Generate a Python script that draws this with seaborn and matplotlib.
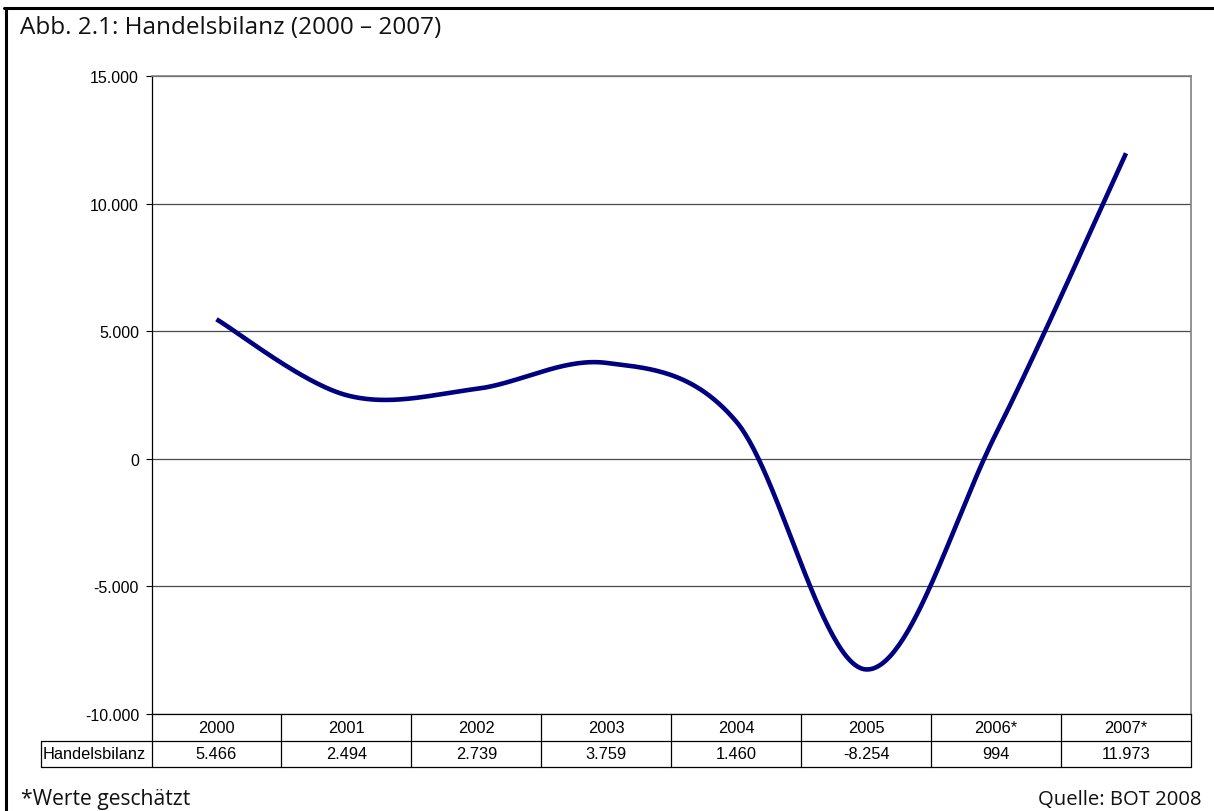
import numpy as np
import pandas as pd
import matplotlib
matplotlib.use('Agg')
import matplotlib.pyplot as plt
import seaborn as sns
from matplotlib.lines import Line2D

# ---- data ----
years = ['2000', '2001', '2002', '2003', '2004', '2005', '2006*', '2007*']
values = [5466, 2494, 2739, 3759, 1460, -8254, 994, 11973]
value_labels = ['5.466', '2.494', '2.739', '3.759', '1.460', '-8.254', '994', '11.973']
y_ticks = [-10000, -5000, 0, 5000, 10000, 15000]
y_tick_labels = ['-10.000', '-5.000', '0', '5.000', '10.000', '15.000']
series_name = 'Handelsbilanz'
title = 'Abb. 2.1: Handelsbilanz (2000 – 2007)'
note = '*Werte geschätzt'
source = 'Quelle: BOT 2008'

sns.set_theme(style='white')
plt.rcParams['font.family'] = ['Liberation Sans', 'DejaVu Sans']

W, H = 1214, 812
fig = plt.figure(figsize=(W / 100, H / 100), dpi=100)
fig.patch.set_facecolor('white')
L, R, T, B = 151.5, 1191, 77, 715
ax = fig.add_axes([L / W, 1 - B / H, (R - L) / W, (B - T) / H])


def excel_smooth(xs, ys, n=60):
    """Bezier smoothing like Excel's 'smoothed line' option."""
    P = np.column_stack([xs, ys]).astype(float)
    out = []
    for i in range(len(P) - 1):
        p0 = P[i - 1] if i > 0 else P[i]
        p1 = P[i]
        p2 = P[i + 1]
        p3 = P[i + 2] if i + 2 < len(P) else P[i + 1]
        c1 = p1 + (p2 - p0) / 6
        c2 = p2 - (p3 - p1) / 6
        t = np.linspace(0, 1, n)[:, None]
        seg = (1 - t) ** 3 * p1 + 3 * (1 - t) ** 2 * t * c1 + 3 * (1 - t) * t ** 2 * c2 + t ** 3 * p2
        if i > 0:
            seg = seg[1:]
        out.append(seg)
    return np.vstack(out)


x_idx = np.arange(len(years))
curve = pd.DataFrame(excel_smooth(x_idx, values), columns=['x', 'y'])
sns.lineplot(data=curve, x='x', y='y', sort=False, estimator=None,
             color='#000080', linewidth=3.3, ax=ax, solid_capstyle='butt')

ax.set_xlim(-0.5, len(years) - 0.5)
ax.set_ylim(y_ticks[0], y_ticks[-1])
ax.set_yticks(y_ticks)
ax.set_yticklabels(y_tick_labels)
ax.set_xticks([])
ax.set_xlabel('')
ax.set_ylabel('')
ax.yaxis.grid(True, color='#4a4a4a', linewidth=0.9)
ax.set_axisbelow(True)
ax.tick_params(axis='y', left=True, length=4.5, width=0.8, color='black',
               direction='out', labelsize=11.5, pad=4.5, labelcolor='black')
ax.spines['left'].set_color('black')
ax.spines['left'].set_linewidth(0.9)
ax.spines['bottom'].set_color('black')
ax.spines['bottom'].set_linewidth(0.9)
for s in ('top', 'right'):
    ax.spines[s].set_color('#808080')
    ax.spines[s].set_linewidth(1.2)

# ---- data table below the plot ----
tr = ax.get_xaxis_transform()
h = 26.5 / (B - T)
n = len(years)
lab_left = -0.5 - 110.5 / 130
lk = dict(transform=tr, color='black', lw=0.9, clip_on=False)
ax.add_artist(Line2D([lab_left, n - 0.5], [-h, -h], **lk))
ax.add_artist(Line2D([lab_left, n - 0.5], [-2 * h, -2 * h], **lk))
ax.add_artist(Line2D([lab_left, lab_left], [-h, -2 * h], **lk))
for k in range(n + 1):
    xb = k - 0.5
    ax.add_artist(Line2D([xb, xb], [0, -2 * h], **lk))
tsize = 11.8
for i, (yr, vl) in enumerate(zip(years, value_labels)):
    ax.text(i, -0.5 * h, yr, transform=tr, ha='center', va='center', fontsize=tsize, color='black')
    ax.text(i, -1.5 * h, vl, transform=tr, ha='center', va='center', fontsize=tsize, color='black')
ax.text(lab_left + 0.015, -1.5 * h, series_name, transform=tr, ha='left', va='center',
        fontsize=tsize, color='black')

# ---- titles and notes ----
fig.text(20 / W, 1 - 28 / H, title, fontsize=17.5, family=['Open Sans', 'DejaVu Sans'],
         ha='left', va='center', color='#111111')
fig.text(21 / W, 1 - 800 / H, note, fontsize=15.2, family=['Open Sans', 'DejaVu Sans'],
         ha='left', va='center', color='#111111')
fig.text(1202 / W, 1 - 800 / H, source, fontsize=14.6, family=['Open Sans', 'DejaVu Sans'],
         ha='right', va='center', color='#111111')

# figure frame (left and top)
fig.add_artist(Line2D([5.5 / W, 5.5 / W], [0, 1 - 9 / H], transform=fig.transFigure,
                      color='black', lw=2.2))
fig.add_artist(Line2D([4.4 / W, 1], [1 - 9 / H, 1 - 9 / H], transform=fig.transFigure,
                      color='black', lw=2.2))

fig.savefig('out.png', dpi=100, facecolor='white')
